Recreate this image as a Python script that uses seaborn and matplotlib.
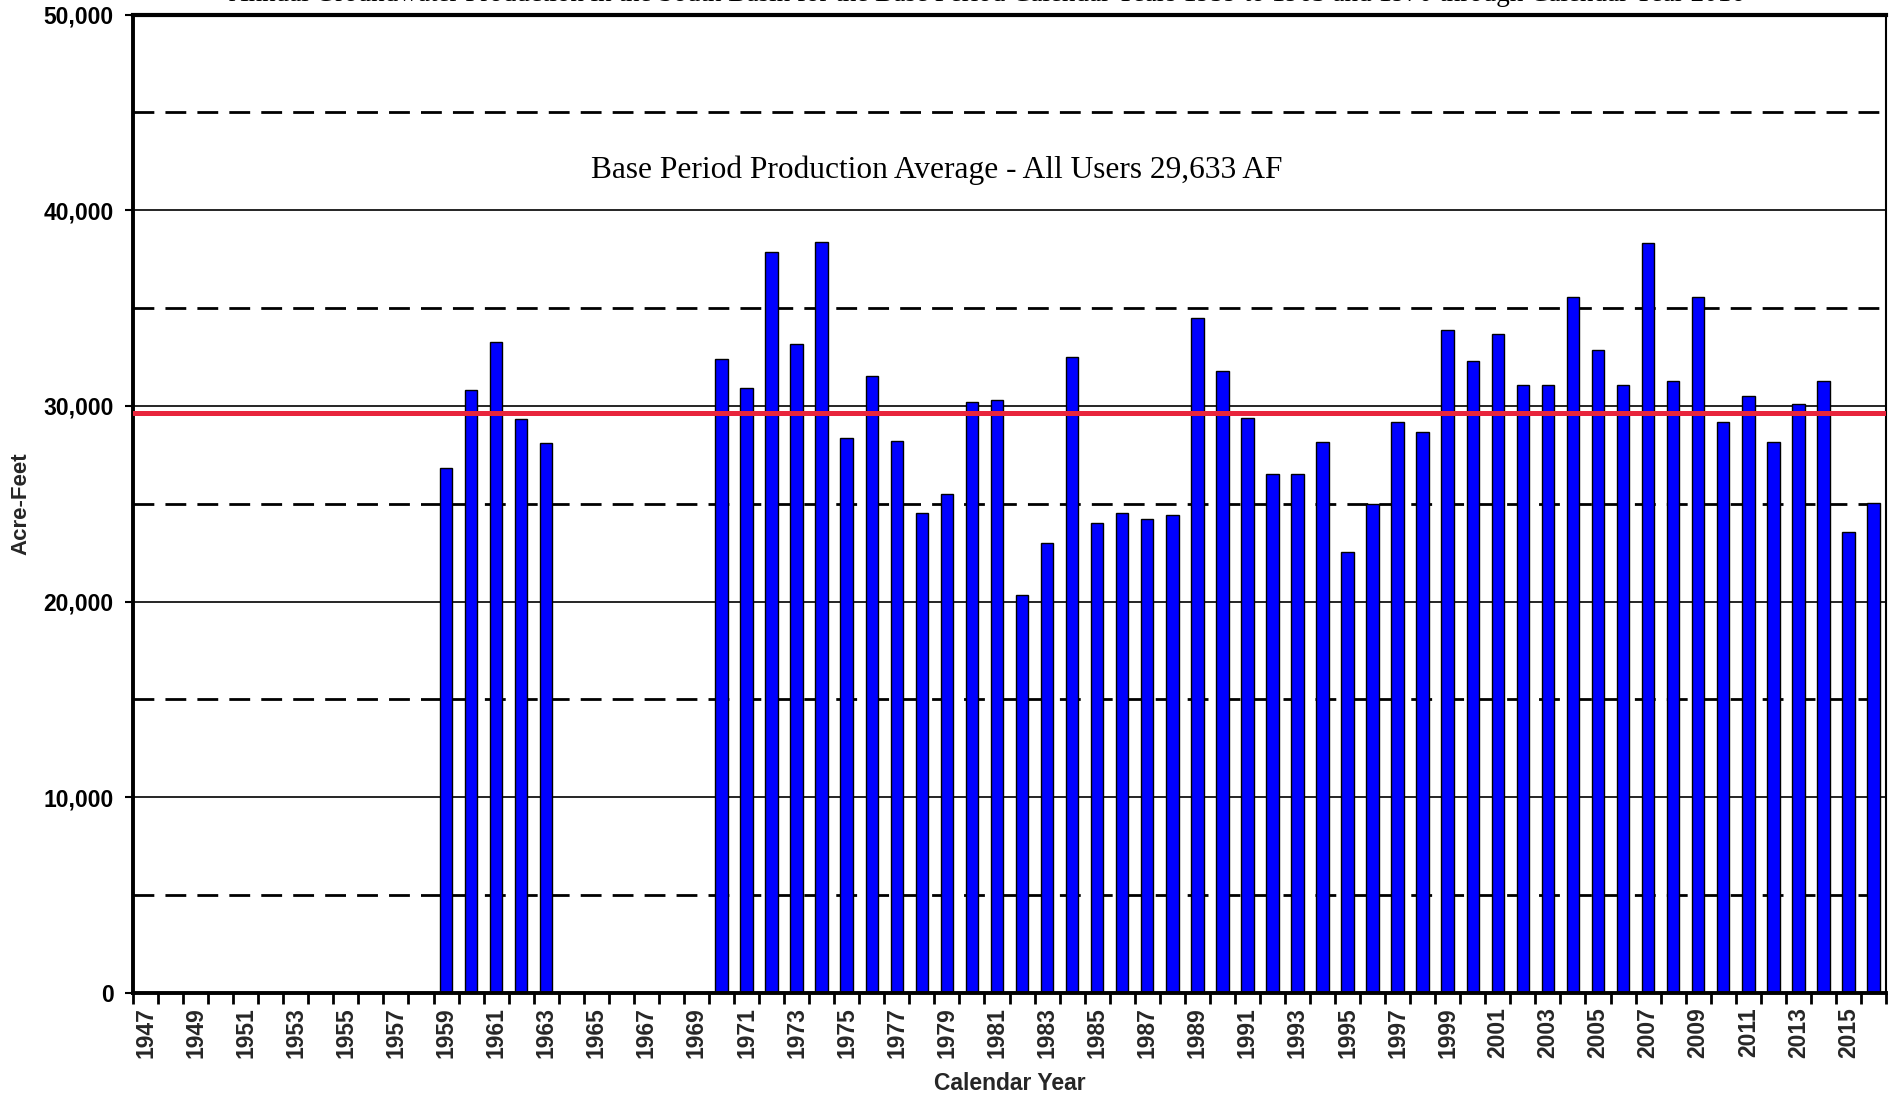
import matplotlib
matplotlib.use("Agg")
import matplotlib.pyplot as plt
import seaborn as sns
import pandas as pd
from matplotlib.ticker import FixedLocator, FuncFormatter

# ---------------- data ----------------
all_years = [str(y) for y in range(1947, 2017)]
prod_years = [1959, 1960, 1961, 1962, 1963,
              1970, 1971, 1972, 1973, 1974, 1975, 1976, 1977, 1978, 1979,
              1980, 1981, 1982, 1983, 1984, 1985, 1986, 1987, 1988, 1989,
              1990, 1991, 1992, 1993, 1994, 1995, 1996, 1997, 1998, 1999,
              2000, 2001, 2002, 2003, 2004, 2005, 2006, 2007, 2008, 2009,
              2010, 2011, 2012, 2013, 2014, 2015, 2016]
production_af = [26850, 30830, 33250, 29350, 28110,
                 32420, 30920, 37840, 33150, 38380, 28340, 31550, 28200, 24530, 25500,
                 30190, 30300, 20350, 22970, 32520, 24000, 24520, 24210, 24430, 34510,
                 31790, 29360, 26530, 26530, 28130, 22530, 24980, 29180, 28650, 33880,
                 32310, 33680, 31080, 31080, 35550, 32860, 31080, 38310, 31260, 35550,
                 29180, 30520, 28130, 30100, 31260, 23580, 25050]
base_average = 29633
annotation = "Base Period Production Average - All Users 29,633 AF"
title_text = ("Annual Groundwater Production in the South Basin for the Base Period "
              "Calendar Years 1959 to 1963 and 1970 through Calendar Year 2016")

df = pd.DataFrame({"Year": [str(y) for y in prod_years], "AF": production_af})

# ---------------- style ----------------
sns.set_style("white")
plt.rcParams["font.family"] = ["Liberation Sans", "DejaVu Sans"]

fig = plt.figure(figsize=(18.98, 10.97), dpi=100)
ax = fig.add_axes([133 / 1898, 1 - 993 / 1097, (1886 - 133) / 1898, (993 - 14.5) / 1097])

sns.barplot(data=df, x="Year", y="AF", order=all_years, color="#0000FF",
            saturation=1, width=0.5, edgecolor="black", linewidth=1.0, ax=ax)

ax.set_xlim(-0.5, len(all_years) - 0.5)
ax.set_ylim(0, 50000)

# y ticks / grid
ax.yaxis.set_major_locator(FixedLocator(range(0, 50001, 10000)))
ax.yaxis.set_minor_locator(FixedLocator(range(5000, 50000, 10000)))
ax.yaxis.set_major_formatter(FuncFormatter(lambda v, p: f"{int(v):,}"))
ax.set_axisbelow(True)
ax.grid(False)
ax.grid(which="major", axis="y", color="black", linewidth=1.2, linestyle="-")
ax.grid(which="minor", axis="y", color="black", linewidth=2.0, linestyle=(0, (7.5, 4)))
ax.tick_params(axis="y", which="major", direction="out", length=6, width=1.5,
               labelsize=16.5, pad=8, left=True, colors="black")
ax.tick_params(axis="y", which="minor", length=0)
for lab in ax.get_yticklabels():
    lab.set_fontweight("bold")

# x ticks: labels every other year at centres, tick marks at boundaries
ax.xaxis.set_major_locator(FixedLocator(range(0, len(all_years), 2)))
ax.set_xticklabels(all_years[::2], rotation=90, fontsize=16.5, fontweight="bold")
ax.xaxis.set_minor_locator(FixedLocator([i - 0.5 for i in range(len(all_years) + 1)]))
ax.tick_params(axis="x", which="major", length=0, pad=10, bottom=True)
ax.tick_params(axis="x", which="minor", direction="out", length=8, width=2,
               bottom=True, colors="black")

# spines
for side, lw in (("left", 2.8), ("bottom", 2.8), ("top", 3.0), ("right", 1.5)):
    ax.spines[side].set_visible(True)
    ax.spines[side].set_color("black")
    ax.spines[side].set_linewidth(lw)

# average line
ax.axhline(base_average, color="#E8253C", linewidth=3.6, zorder=5)

# labels
ax.set_xlabel("Calendar Year", fontsize=16.5, fontweight="bold")
ax.set_ylabel("Acre-Feet", fontsize=16, fontweight="bold")
ax.xaxis.label.set_va("center")
ax.xaxis.set_label_coords(0.5, (993 - 1083) / (993 - 14.5))
ax.yaxis.label.set_va("center")
ax.yaxis.set_label_coords((21 - 133) / (1886 - 133), 0.5)

# annotation
fig.text(937 / 1898, 1 - 170 / 1097, annotation, ha="center", va="center",
         fontsize=22.6, family=["Liberation Serif", "DejaVu Serif"], color="black")

# title (mostly cut off at the top, as in the reference)
fig.text(987 / 1898, 1 - 1.0 / 1097, title_text, ha="center", va="baseline",
         fontsize=19.5, family=["Liberation Serif", "DejaVu Serif"], color="black")

fig.savefig("out.png", dpi=100)
